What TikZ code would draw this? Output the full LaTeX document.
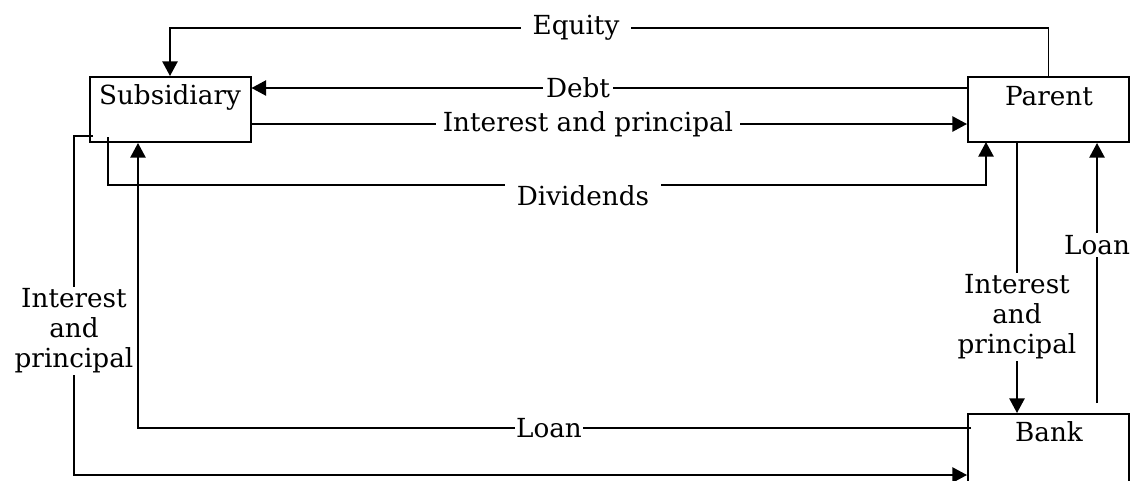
\documentclass[tikz,border=0pt]{standalone}
\usepackage{fontspec}
\setmainfont{DejaVu Serif}
\usetikzlibrary{arrows.meta,calc}
\begin{document}
\begin{tikzpicture}[x=0.75pt,y=-0.75pt,
  font=\fontsize{19.7}{22.5}\selectfont,
  box/.style={draw,line width=1.5pt,minimum width=161*0.75pt,minimum height=65*0.75pt,inner sep=0pt},
  flow/.style={line width=1.2pt},
  arr/.style={flow,-{Triangle[length=11pt,width=11.5pt]}},
  lbl/.style={fill=white,inner sep=3pt,align=center}]
\useasboundingbox (0,0) rectangle (1131,480);

% the three parties
\node[box] (sub) at (170,109.5) {};
\node[box] (par) at (1048.5,109.5) {};
\node[box,minimum height=70*0.75pt] (bank) at (1048.5,449) {};
\node (subt) at (170,97) {Subsidiary};
\node (part) at (1049,96) {Parent};
\node (bankt) at (1049,432) {Bank};

% Parent to Subsidiary: equity and debt
\coordinate (eqy) at (0,28);
\draw[arr] (par.north) -- (par.north |- eqy) -| (sub.north);
\node[lbl,inner xsep=9pt] (leq) at (576,28) {Equity};
\draw[arr] (par.west |- 0,88) -- (sub.east |- 0,88);
\node[lbl,inner xsep=2pt] (ldebt) at (578,88) {Debt};

% Subsidiary to Parent: interest, principal and dividends
\draw[arr] (sub.east |- 0,124) -- (par.west |- 0,124);
\node[lbl,inner xsep=5pt] (lip) at (588,124) {Interest and principal};
\coordinate (dstart) at (108,137);
\draw[arr] (dstart) |- (986,185) -- (986,142);
\node[lbl,inner ysep=5pt,inner xsep=9pt] (ldiv) at (583,196) {Dividends};

% Subsidiary and Bank
\coordinate (ipstart) at (93,136);
\draw[arr] (ipstart) -- (74,136) |- (bank.west |- 0,475);
\node[lbl,inner sep=1pt] (lip2) at (74,331) {Interest\\and\\principal};
\coordinate (lstart) at (971,428);
\draw[arr] (lstart) -| (sub.south -| 138,0);
\node[lbl,inner xsep=1pt] (lloan) at (549,428) {Loan};

% Parent and Bank
\draw[arr] (par.south -| 1017,0) -- (bank.north -| 1017,0);
\node[lbl,inner sep=1pt] (lip3) at (1017,317) {Interest\\and\\principal};
\coordinate (rlstart) at (1097,403);
\draw[arr] (rlstart) -- (par.south -| 1097,0);
\node[lbl,inner sep=2pt] (lloan2) at (1097,245) {Loan};
\end{tikzpicture}
\end{document}
